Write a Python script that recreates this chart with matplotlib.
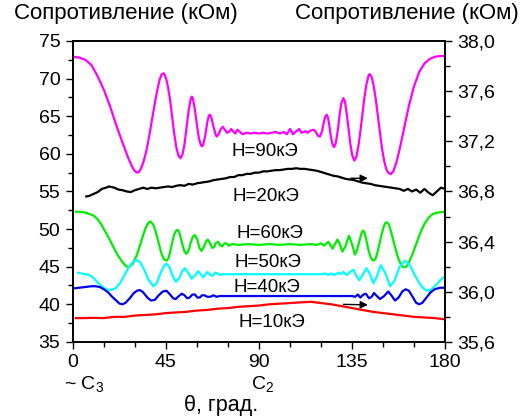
import numpy as np
import matplotlib
matplotlib.use('Agg')
import matplotlib.pyplot as plt
from matplotlib.ticker import MultipleLocator, FuncFormatter

plt.rcParams['font.family'] = ['Liberation Sans', 'DejaVu Sans']
plt.rcParams['mathtext.fontset'] = 'custom'
plt.rcParams['mathtext.rm'] = 'Liberation Sans'

# H=90 kOe, left axis
theta_90 = [0, 3, 6, 9, 12, 15, 18, 21, 24, 27, 29, 30, 31, 32, 33, 34, 35, 36, 37, 38,
            39, 40, 41, 42, 43, 44, 45, 46, 47, 48, 49, 50, 51, 52, 53, 54, 55, 56, 57,
            57.5, 58, 59, 60, 61, 62, 62.5, 63, 64, 65, 65.8, 66.3, 67, 68, 69, 69.5,
            70.5, 71.5, 72.5, 73.5, 74.5, 75.5, 76.5, 77.5, 78.5, 79.5, 80.5, 82, 84,
            86, 88, 90, 92, 94, 96, 98, 100, 102, 103.5, 105, 106.5, 108, 109.5, 110.5,
            111.5, 112.5, 113.5, 115, 116.5, 117.5, 118.5, 119.5, 120.5, 121.2, 122,
            122.7, 123.4, 124.1, 124.8, 125.5, 126.3, 127, 127.6, 128.3, 129, 129.8,
            130.8, 131.6, 132.4, 133.3, 134.2, 135.1, 136.1, 137, 138, 139, 140, 141,
            142, 143, 143.5, 144.5, 145.5, 146.5, 147.5, 148.5, 149.5, 150.5, 151.5,
            152.5, 153.7, 155, 156.5, 158, 160, 162.5, 165, 167.5, 170, 172.5, 175,
            177.5, 180]
r_90 = [72.9, 72.8, 72.5, 71.8, 70.3, 68.5, 66.3, 63.8, 61.5, 59.3, 58.1, 57.7, 57.5,
        57.6, 58.1, 58.8, 59.8, 61.0, 62.5, 64.1, 65.7, 67.3, 68.7, 69.9, 70.6, 70.7,
        70.1, 68.9, 67.2, 65.0, 62.7, 60.9, 59.8, 59.4, 59.9, 61.3, 63.5, 65.8, 67.3,
        67.6, 67.4, 65.9, 63.8, 62.0, 61.1, 61.0, 61.2, 62.4, 64.2, 65.1, 65.2, 64.8,
        63.6, 62.6, 62.3, 62.6, 63.3, 63.6, 63.2, 62.8, 62.9, 63.3, 63.0, 62.7, 63.2,
        63.0, 62.6, 62.8, 62.7, 62.8, 62.7, 62.8, 62.7, 62.8, 62.9, 62.7, 62.9, 62.6,
        63.3, 62.6, 63.0, 63.3, 62.8, 62.9, 63.0, 62.8, 63.1, 63.2, 62.9, 62.4, 62.3,
        63.0, 64.0, 64.9, 65.2, 64.8, 63.6, 62.2, 61.3, 60.9, 61.3, 62.2, 63.5, 65.2,
        66.7, 67.4, 66.9, 65.4, 63.4, 61.3, 59.8, 59.1, 59.5, 60.9, 62.9, 65.2, 67.5,
        69.3, 70.4, 70.6, 70.2, 69.0, 67.2, 65.0, 62.7, 60.7, 59.1, 58.0, 57.5, 57.3,
        57.7, 58.9, 60.6, 63.2, 66.4, 69.0, 70.9, 72.0, 72.6, 72.9, 73.0, 73.0]

# H=60 kOe, left axis
theta_60 = [1.5, 3, 6, 8, 10, 12, 14, 16, 18, 20, 22, 24, 26, 27.5, 29, 31, 33, 34, 35,
            36, 37, 37.5, 38, 39, 40, 41, 42, 43, 44, 45.3, 46.2, 47, 48, 49, 50, 50.6,
            51.3, 52, 53, 54, 55, 56, 57, 58, 59, 60.2, 61.2, 62.2, 63.3, 64.5, 65.2,
            66.2, 67.3, 68.3, 69.3, 70.3, 71.3, 72.3, 73.3, 74.3, 75.3, 77, 80, 85, 90,
            95, 100, 105, 110, 115, 118, 120, 121.5, 123.5, 125.6, 127.9, 129, 130.3,
            131.8, 133.5, 135, 136.4, 137.3, 138.3, 139.3, 140.2, 141, 141.8, 142.7,
            143.7, 144.5, 145.3, 146.3, 147.3, 148.3, 149.3, 150.3, 151.1, 151.8,
            152.6, 153.5, 154.5, 155.5, 156.5, 157.5, 158.5, 159.5, 160.3, 161.2, 162,
            164, 166, 168, 170, 172, 174, 176.5, 180]
r_60 = [52.3, 52.3, 52.2, 52.0, 51.8, 51.3, 50.5, 49.5, 48.5, 47.4, 46.4, 45.6, 45.0,
        45.0, 45.4, 46.6, 48.3, 49.2, 50.0, 50.6, 50.95, 51.0, 50.9, 50.5, 49.7, 48.7,
        47.6, 46.6, 46.0, 45.8, 46.1, 46.9, 48.2, 49.3, 49.8, 49.9, 49.7, 49.0, 47.9,
        47.0, 46.7, 47.2, 48.2, 49.0, 49.2, 48.6, 47.5, 47.1, 47.6, 48.4, 48.6, 48.2,
        47.5, 47.6, 48.2, 48.3, 47.8, 47.7, 48.1, 48.1, 47.8, 48.0, 47.9, 48.0, 47.9,
        48.0, 47.9, 48.0, 47.9, 48.0, 47.9, 48.1, 47.8, 48.3, 47.4, 48.6, 48.1, 47.0,
        47.7, 49.1, 48.0, 46.6, 47.1, 48.1, 49.2, 49.8, 49.6, 48.7, 47.5, 46.5, 46.0,
        45.8, 46.0, 46.9, 48.1, 49.3, 50.3, 50.8, 50.9, 50.7, 50.0, 49.0, 47.9, 46.9,
        46.0, 45.4, 45.0, 44.9, 45.0, 45.3, 46.5, 48.0, 49.5, 50.7, 51.5, 52.0, 52.2,
        52.3]

# H=50 kOe, left axis
theta_50 = [2.5, 4, 6, 8, 10, 12, 14, 16, 18.7, 21, 23, 25, 27, 29, 30.8, 32.5, 34.5,
            36.5, 38.9, 40.5, 42.5, 44, 45.3, 46.8, 48.3, 49.8, 51.3, 52.8, 54.2, 55.8,
            57.4, 59, 60.6, 61.8, 63, 64.1, 65.2, 66.4, 67.6, 68.8, 70, 71.2, 72.5, 75,
            80, 85, 90, 95, 100, 105, 110, 115, 120, 122, 123.5, 125, 126.5, 128.4,
            129.6, 130.8, 132.4, 134, 135.6, 137, 138.5, 140.3, 142, 143.7, 145.3, 147,
            148.9, 151, 153.4, 155.5, 158, 160.6, 163, 165.5, 168, 170, 171.9, 174, 176,
            178, 180]
r_50 = [44.2, 44.1, 44.0, 43.9, 43.5, 42.9, 42.4, 42.0, 41.9, 42.2, 42.9, 43.9, 44.9,
        45.6, 45.9, 45.6, 44.6, 43.3, 42.4, 42.8, 44.2, 45.1, 45.4, 44.9, 43.7, 43.0,
        43.4, 44.4, 44.8, 44.2, 43.4, 43.8, 44.4, 44.0, 43.6, 44.0, 44.3, 43.9, 43.8,
        44.2, 44.1, 43.9, 44.0, 44.0, 44.0, 44.0, 44.0, 44.0, 44.0, 44.0, 44.0, 44.0,
        44.0, 44.1, 43.9, 44.1, 43.9, 44.2, 44.0, 44.3, 43.9, 44.3, 44.6, 43.8, 43.2,
        44.0, 44.8, 44.0, 42.8, 43.7, 45.2, 44.2, 42.4, 43.1, 45.0, 45.8, 45.2, 43.8,
        42.6, 42.0, 41.8, 42.1, 42.7, 43.3, 43.7]

# H=40 kOe, left axis
theta_40 = [0, 3, 6, 9, 11, 13, 15, 17, 19, 21, 22.5, 24, 25.5, 27.5, 29.5, 31, 32.4,
            34, 36, 37.8, 39.7, 41.5, 43.5, 45.3, 47, 48.5, 49.8, 51.2, 52.7, 54, 55.3,
            56.5, 57.8, 59, 60.2, 61.3, 62.5, 63.7, 65, 66.5, 68, 69.5, 71, 75, 80, 90,
            100, 110, 120, 130, 135, 136.5, 137.8, 139, 140.5, 141.7, 143.2, 144.5,
            145.6, 147, 148.5, 150.5, 152.5, 154, 155.8, 157.5, 159.3, 160.9, 162.5,
            164.5, 166, 167.5, 169, 171, 173, 175, 177.5, 180]
r_40 = [42.1, 42.2, 42.3, 42.4, 42.4, 42.3, 42.0, 41.6, 41.0, 40.5, 40.1, 40.0, 40.2,
        40.8, 41.5, 41.8, 41.9, 41.6, 40.9, 40.5, 40.6, 41.2, 41.7, 41.8, 41.3, 40.8,
        40.7, 41.1, 41.4, 41.2, 40.8, 40.9, 41.3, 41.3, 40.9, 40.9, 41.2, 41.2, 41.0,
        41.0, 41.2, 41.0, 41.1, 41.1, 41.1, 41.1, 41.1, 41.1, 41.1, 41.1, 41.1, 41.0,
        41.3, 40.9, 41.3, 41.4, 40.8, 41.0, 41.5, 41.1, 40.7, 41.1, 41.7, 41.2, 40.5,
        40.9, 41.7, 42.0, 41.8, 40.9, 40.2, 40.0, 40.2, 40.9, 41.6, 42.0, 42.2, 42.2]

# H=20 kOe, right axis
theta_20 = [6.5, 8, 10, 12, 14, 16, 17.5, 20, 22, 24, 26, 28, 30, 32, 34, 36, 38, 40,
            42, 44, 46, 48, 50, 52, 54, 56, 58, 60, 62, 64, 66, 68, 70, 72, 74, 76, 78,
            80, 82, 84, 86, 88, 90, 92, 94, 96, 98, 100, 102, 104, 106, 108, 110, 112,
            114, 116, 118, 120, 122, 124, 126, 128, 130, 132, 134, 136, 138, 140, 142,
            144, 146, 148, 150, 152, 154, 156, 158, 160, 162, 164, 166, 168, 170, 172,
            174, 176, 178, 180]
r_20 = [36.76, 36.765, 36.78, 36.795, 36.82, 36.83, 36.84, 36.83, 36.815, 36.81,
        36.80, 36.795, 36.81, 36.82, 36.83, 36.82, 36.83, 36.825, 36.83, 36.835,
        36.84, 36.835, 36.845, 36.85, 36.845, 36.86, 36.855, 36.865, 36.87, 36.875,
        36.88, 36.89, 36.895, 36.90, 36.905, 36.915, 36.915, 36.93, 36.93, 36.94,
        36.94, 36.95, 36.95, 36.96, 36.96, 36.965, 36.97, 36.97, 36.975, 36.98,
        36.98, 36.985, 36.98, 36.98, 36.975, 36.97, 36.965, 36.955, 36.945, 36.935,
        36.925, 36.92, 36.91, 36.90, 36.895, 36.89, 36.88, 36.87, 36.865, 36.86,
        36.85, 36.845, 36.84, 36.835, 36.83, 36.825, 36.82, 36.805, 36.82, 36.80,
        36.815, 36.79, 36.82, 36.79, 36.77, 36.80, 36.83, 36.82]

# H=10 kOe, right axis
theta_10 = [1.5, 5, 10, 15, 20, 25, 30, 35, 40, 45, 50, 55, 60, 65, 70, 75, 80, 85, 90,
            95, 100, 105, 110, 115, 120, 125, 130, 135, 140, 145, 150, 155, 160, 165,
            170, 175, 180]
r_10 = [35.79, 35.79, 35.792, 35.79, 35.80, 35.80, 35.81, 35.815, 35.82, 35.83, 35.835,
        35.84, 35.85, 35.855, 35.865, 35.87, 35.88, 35.885, 35.89, 35.90, 35.905, 35.91,
        35.915, 35.92, 35.91, 35.90, 35.885, 35.87, 35.855, 35.84, 35.83, 35.82, 35.81,
        35.80, 35.795, 35.79, 35.78]

labels = ['H=90кЭ', 'H=20кЭ', 'H=60кЭ', 'H=50кЭ', 'H=40кЭ', 'H=10кЭ']
label_x = [93, 93.5, 95.5, 94.5, 94, 96]
label_y = [60.3, 54.3, 49.4, 45.6, 42.2, 37.6]

fig = plt.figure(figsize=(5.28, 4.18), dpi=100)
ax = fig.add_axes([0.138, 0.182, 0.705, 0.720])
ax2 = ax.twinx()

lw = 1.6
ax.plot(theta_90, r_90, color='#ff00ff', lw=lw)
ax.plot(theta_60, r_60, color='#00ee00', lw=lw)
ax.plot(theta_50, r_50, color='#00ffff', lw=lw)
ax.plot(theta_40, r_40, color='#0000ee', lw=lw)
ax2.plot(theta_20, r_20, color='black', lw=lw)
ax2.plot(theta_10, r_10, color='#ff0000', lw=lw)

for t, x, y in zip(labels, label_x, label_y):
    ax.text(x, y, t, fontsize=13.5, ha='center', va='center')

# arrows pointing to the right-hand axis
ax2.annotate('', xy=(144, 36.905), xytext=(133, 36.905),
             arrowprops=dict(arrowstyle='-|>', color='black', lw=1, mutation_scale=11))
ax2.annotate('', xy=(144, 35.895), xytext=(129.5, 35.90),
             arrowprops=dict(arrowstyle='-|>', color='black', lw=1, mutation_scale=11))

ax.set_xlim(0, 180)
ax.set_ylim(35, 75)
ax2.set_ylim(35.6, 38.0)
ax.xaxis.set_major_locator(MultipleLocator(45))
ax.xaxis.set_minor_locator(MultipleLocator(15))
ax.yaxis.set_major_locator(MultipleLocator(5))
ax.yaxis.set_minor_locator(MultipleLocator(2.5))
ax2.yaxis.set_major_locator(MultipleLocator(0.4))
ax2.yaxis.set_minor_locator(MultipleLocator(0.2))
ax2.yaxis.set_major_formatter(FuncFormatter(lambda v, p: f'{v:.1f}'.replace('.', ',')))

for a in (ax, ax2):
    a.tick_params(which='major', direction='out', length=5, width=1, labelsize=14, pad=4)
    a.tick_params(which='minor', direction='out', length=3.5, width=1)
    for s in a.spines.values():
        s.set_linewidth(1.2)
ax.tick_params(top=False, which='both')

fig.text(126 / 528, 1 - 14 / 418, 'Сопротивление (кОм)', fontsize=16, ha='center', va='center')
fig.text(407 / 528, 1 - 14 / 418, 'Сопротивление (кОм)', fontsize=16, ha='center', va='center')
fig.text(221 / 528, 1 - 405 / 418, 'θ, град.', fontsize=15.5, ha='center', va='center')
fig.text(84 / 528, 1 - 385 / 418, r'~ C$_\mathregular{3}$', fontsize=14, ha='center', va='center')
fig.text(263 / 528, 1 - 385 / 418, r'C$_\mathregular{2}$', fontsize=14, ha='center', va='center')

fig.savefig('out.png', dpi=100)
